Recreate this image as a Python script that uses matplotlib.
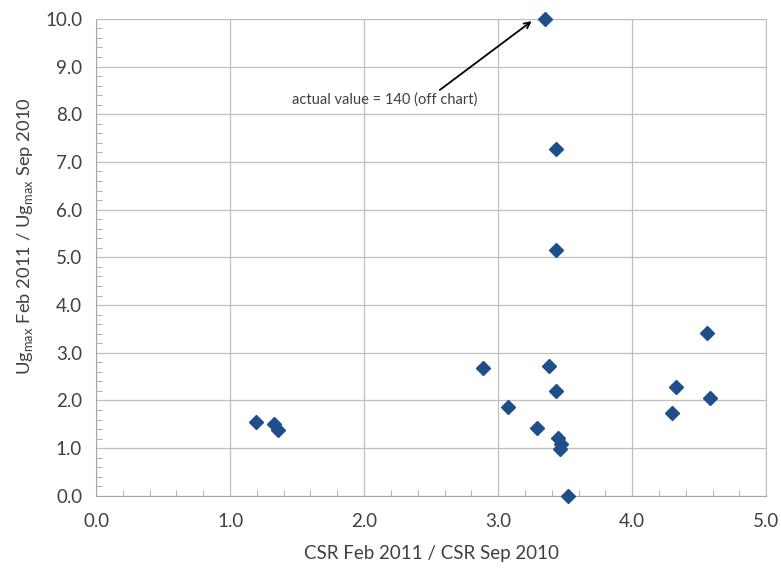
import numpy as np
import matplotlib.pyplot as plt
from matplotlib.ticker import MultipleLocator, FormatStrFormatter

# CSR ratio (Feb 2011 / Sep 2010) vs Ugmax ratio
csr_ratio = [1.19, 1.33, 1.36, 2.89, 3.07, 3.29, 3.38, 3.43, 3.45, 3.47, 3.46,
             3.52, 3.43, 3.43, 3.35, 4.56, 4.33, 4.58, 4.30]
ug_ratio = [1.54, 1.50, 1.38, 2.68, 1.87, 1.43, 2.73, 2.19, 1.22, 1.09, 0.98,
            0.00, 7.28, 5.16, 10.0, 3.42, 2.28, 2.06, 1.73]

plt.rcParams['font.family'] = ['Lato', 'DejaVu Sans']

fig = plt.figure(figsize=(7.81, 5.70), dpi=100)
ax = fig.add_axes([0.123, 0.130, 0.858, 0.837])

ax.plot(csr_ratio, ug_ratio, linestyle='none', marker='D', ms=7.5,
        color='#1F4E8A', clip_on=False, zorder=5)

ax.set_xlim(0, 5)
ax.set_ylim(0, 10)
ax.xaxis.set_major_locator(MultipleLocator(1.0))
ax.xaxis.set_minor_locator(MultipleLocator(0.2))
ax.yaxis.set_major_locator(MultipleLocator(1.0))
ax.yaxis.set_minor_locator(MultipleLocator(0.2))
ax.xaxis.set_major_formatter(FormatStrFormatter('%.1f'))
ax.yaxis.set_major_formatter(FormatStrFormatter('%.1f'))

ax.grid(True, which='major', color='#BFBFBF', linewidth=0.9)
ax.set_axisbelow(True)
ax.tick_params(which='major', length=0, labelsize=13.5, colors='#404040', pad=10)
ax.tick_params(axis='x', which='major', pad=12)
ax.tick_params(which='minor', direction='in', length=4, color='#A6A6A6')

for s in ['top', 'right']:
    ax.spines[s].set_color('#BFBFBF')
for s in ['left', 'bottom']:
    ax.spines[s].set_color('#A6A6A6')

ax.set_xlabel('CSR Feb 2011 / CSR Sep 2010', fontsize=13.5, color='#404040', labelpad=11)
ax.set_ylabel(r'Ug$_{\mathregular{max}}$ Feb 2011 / Ug$_{\mathregular{max}}$ Sep 2010',
              fontsize=13.2, color='#404040', labelpad=7)
ax.yaxis.label.set_y(0.545)

ax.annotate('actual value = 140 (off chart)', xy=(3.25, 9.95), xytext=(2.15, 8.3),
            textcoords='data', fontsize=10.5, color='#404040', ha='center', va='center',
            arrowprops=dict(arrowstyle='->', color='black', lw=1.3,
                            shrinkA=0, shrinkB=0, relpos=(0.78, 1.0)))

fig.savefig('out.png', dpi=100)
